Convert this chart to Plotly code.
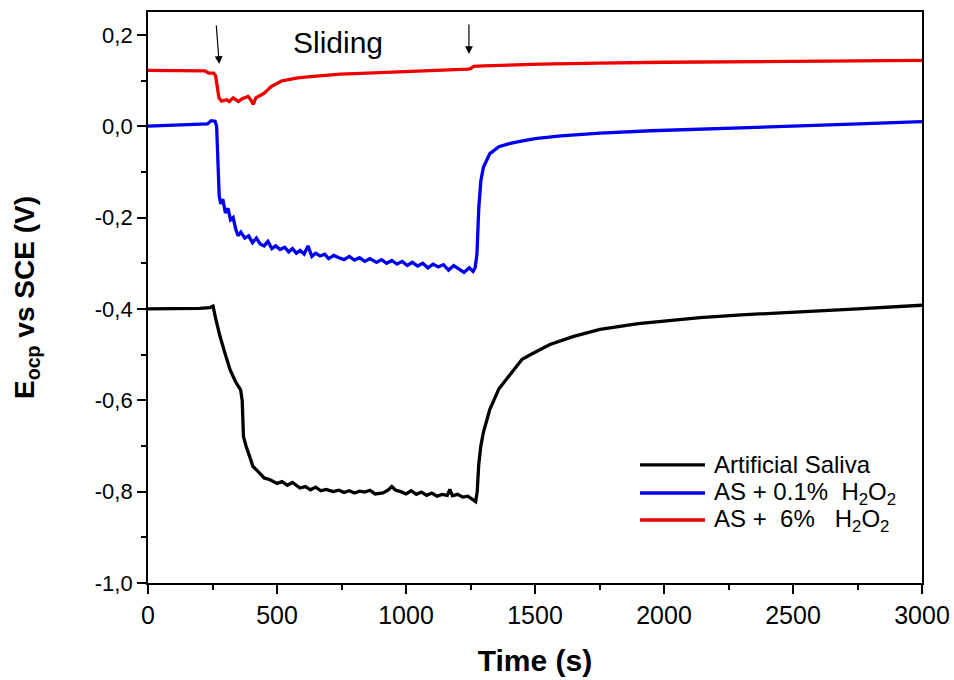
import plotly.graph_objects as go

# ---------------- data ----------------
t_as = [0, 100, 200, 240, 252, 262, 279, 300, 318, 340, 359, 365, 370, 380, 390, 407, 430, 450,
        473, 500, 520, 540, 560, 589, 610, 630, 650, 670, 690, 718, 740, 760, 780, 800, 820, 840,
        860, 880, 911, 930, 945, 960, 980, 1000, 1020, 1040, 1060, 1080, 1100, 1120, 1140, 1160,
        1170, 1180, 1200, 1220, 1240, 1255, 1270, 1276, 1282, 1290, 1300, 1325, 1360, 1403, 1450,
        1500, 1558, 1650, 1752, 1900, 2140, 2300, 2527, 2750, 3000]
e_as = [-0.400, -0.400, -0.399, -0.397, -0.394, -0.420, -0.460, -0.500, -0.533, -0.560, -0.577,
        -0.600, -0.680, -0.700, -0.715, -0.745, -0.758, -0.770, -0.774, -0.782, -0.778, -0.786,
        -0.780, -0.792, -0.789, -0.796, -0.790, -0.798, -0.795, -0.800, -0.797, -0.802, -0.798,
        -0.803, -0.799, -0.801, -0.797, -0.805, -0.803, -0.797, -0.789, -0.797, -0.800, -0.805,
        -0.798, -0.806, -0.801, -0.808, -0.803, -0.810, -0.806, -0.808, -0.795, -0.809, -0.806,
        -0.812, -0.810, -0.815, -0.822, -0.800, -0.740, -0.700, -0.670, -0.620, -0.575, -0.544,
        -0.510, -0.495, -0.478, -0.460, -0.445, -0.432, -0.419, -0.413, -0.407, -0.400, -0.392]

t_01 = [0, 100, 200, 230, 245, 260, 266, 272, 276, 282, 290, 300, 310, 320, 330, 340, 349, 360,
        375, 390, 405, 420, 435, 450, 465, 480, 495, 512, 530, 545, 560, 575, 590, 605, 620, 635,
        650, 667, 685, 700, 720, 740, 760, 780, 800, 820, 840, 860, 886, 905, 925, 945, 965, 985,
        1005, 1025, 1045, 1065, 1085, 1105, 1125, 1145, 1165, 1185, 1205, 1225, 1245, 1260, 1268,
        1275, 1282, 1290, 1300, 1325, 1360, 1400, 1442, 1500, 1600, 1752, 1950, 2140, 2400, 2700,
        3000]
e_01 = [0.000, 0.002, 0.004, 0.005, 0.012, 0.011, 0.000, -0.100, -0.153, -0.170, -0.160, -0.190,
        -0.180, -0.205, -0.200, -0.225, -0.240, -0.232, -0.245, -0.240, -0.255, -0.245, -0.258,
        -0.262, -0.252, -0.268, -0.262, -0.270, -0.265, -0.275, -0.268, -0.278, -0.272, -0.280,
        -0.262, -0.285, -0.278, -0.284, -0.280, -0.290, -0.283, -0.288, -0.292, -0.285, -0.293,
        -0.288, -0.296, -0.290, -0.298, -0.292, -0.300, -0.294, -0.302, -0.296, -0.305, -0.298,
        -0.306, -0.300, -0.310, -0.302, -0.308, -0.303, -0.315, -0.305, -0.312, -0.320, -0.310,
        -0.318, -0.310, -0.280, -0.180, -0.120, -0.090, -0.060, -0.045, -0.038, -0.033, -0.027,
        -0.021, -0.015, -0.010, -0.006, -0.001, 0.004, 0.010]

t_6 = [0, 100, 200, 221, 235, 255, 262, 268, 275, 285, 295, 305, 315, 330, 340, 350, 365, 378,
       388, 398, 408, 418, 430, 450, 465, 478, 495, 517, 545, 581, 620, 680, 744, 800, 850, 900,
       950, 1000, 1050, 1100, 1150, 1200, 1240, 1250, 1262, 1300, 1519, 1750, 2000, 2500, 3000]
e_6 = [0.122, 0.122, 0.122, 0.121, 0.116, 0.116, 0.110, 0.085, 0.062, 0.055, 0.056, 0.058, 0.054,
       0.062, 0.058, 0.054, 0.060, 0.063, 0.065, 0.058, 0.048, 0.062, 0.066, 0.072, 0.080, 0.087,
       0.092, 0.099, 0.102, 0.106, 0.108, 0.111, 0.114, 0.115, 0.116, 0.118, 0.118, 0.119, 0.121,
       0.121, 0.122, 0.124, 0.125, 0.126, 0.131, 0.132, 0.136, 0.138, 0.140, 0.142, 0.144]

series_names = ["Artificial Saliva",
                "AS + 0.1%\u00a0\u00a0H<sub>2</sub>O<sub>2</sub>",
                "AS +\u00a0\u00a06%\u00a0\u00a0\u00a0H<sub>2</sub>O<sub>2</sub>"]
series_colors = ["#000000", "#0000ee", "#ee0000"]

y_tickvals = [-1.0, -0.8, -0.6, -0.4, -0.2, 0.0, 0.2]
y_ticktext = ["-1,0", "-0,8", "-0,6", "-0,4", "-0,2", "0,0", "0,2"]
x_tickvals = [0, 500, 1000, 1500, 2000, 2500, 3000]
x_ticktext = ["0", "500", "1000", "1500", "2000", "2500", "3000"]

arrow_t = [276, 1244]
arrow_e = [0.136, 0.158]

FONT = "Liberation Sans, Arial, sans-serif"

fig = go.Figure()
for t, e, name, col in zip([t_as, t_01, t_6], [e_as, e_01, e_6], series_names, series_colors):
    fig.add_trace(go.Scatter(x=t, y=e, mode="lines", name=name, showlegend=False,
                             line=dict(color=col, width=3.3)))

fig.update_xaxes(range=[0, 3000], tickvals=x_tickvals, ticktext=x_ticktext,
                 ticks="outside", ticklen=9, tickwidth=1.5, tickcolor="black",
                 showline=True, linecolor="black", linewidth=1.8, mirror=True,
                 showgrid=False, zeroline=False, automargin=False,
                 minor=dict(dtick=250, ticks="outside", ticklen=5, tickwidth=1.5, tickcolor="black"),
                 tickfont=dict(family=FONT, size=25, color="black"),
                 title=dict(text="<b>Time (s)</b>", font=dict(family=FONT, size=30, color="black"),
                            standoff=22))
fig.update_yaxes(range=[-1.0, 0.25], tickvals=y_tickvals, ticktext=y_ticktext,
                 ticks="outside", ticklen=9, tickwidth=1.5, tickcolor="black",
                 showline=True, linecolor="black", linewidth=1.8, mirror=True,
                 showgrid=False, zeroline=False, automargin=False,
                 minor=dict(dtick=0.1, tick0=0, ticks="outside", ticklen=5, tickwidth=1.5,
                            tickcolor="black"),
                 tickfont=dict(family=FONT, size=22, color="black"),
                 title=dict(text="<b>E<sub>ocp</sub> vs SCE (V)</b>",
                            font=dict(family=FONT, size=28, color="black"), standoff=52))

fig.add_annotation(x=736, y=0.183, text="Sliding", showarrow=False,
                   font=dict(family=FONT, size=30, color="black"))
for at, ae, dy in zip(arrow_t, arrow_e, [-40, -31]):
    fig.add_annotation(x=at, y=ae, text="", showarrow=True, arrowhead=2, arrowsize=1.3,
                       arrowwidth=1.2, arrowcolor="black", ax=-3 if at < 500 else 0, ay=dy)

# hand-made legend (longer line samples, tight rows as in the original)
leg_rows = [0.2067, 0.1576, 0.1103]
for name, col, yy in zip(series_names, series_colors, leg_rows):
    fig.add_shape(type="line", xref="paper", yref="paper", x0=0.6357, x1=0.7196, y0=yy, y1=yy,
                  line=dict(color=col, width=3.3))
    fig.add_annotation(xref="paper", yref="paper", x=0.7287, y=yy, text=name, showarrow=False,
                       xanchor="left", yanchor="middle",
                       font=dict(family=FONT, size=24, color="black"))

fig.update_layout(
    width=954, height=680,
    margin=dict(l=148, r=32, t=12, b=97),
    paper_bgcolor="white", plot_bgcolor="white",
    font=dict(family=FONT, color="black"),
    showlegend=False,
)

# remove the page's default 8px body margin so the figure fills the window exactly
fig.write_html("out.html", config={"displayModeBar": False},
               post_script="document.body.style.margin='0';document.body.style.overflow='hidden';")
